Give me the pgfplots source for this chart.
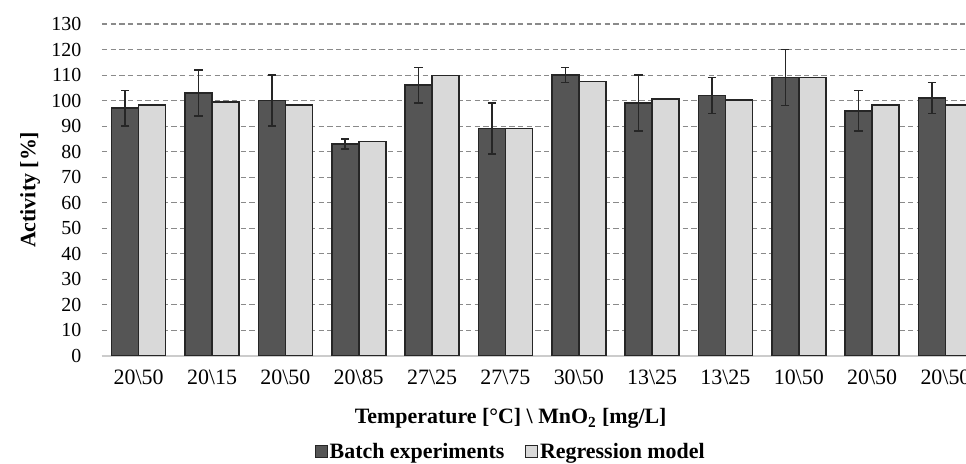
\documentclass[border=0pt]{standalone}
\usepackage{pgfplots}
\pgfplotsset{compat=1.18}
\usepackage{fontspec}
\setmainfont{Liberation Serif}
\usetikzlibrary{calc}
\definecolor{darkbar}{HTML}{555555}
\definecolor{lightbar}{HTML}{D9D9D9}
\definecolor{edge}{HTML}{262626}
\definecolor{gridc}{HTML}{8A8A8A}
\begin{document}
\begin{tikzpicture}
\begin{axis}[name=ax, scale only axis, width=648bp, height=248.8bp,
  ymin=0, ymax=130, ytick={0,10,...,130},
  xmin=-0.5, xmax=11.28,
  xtick={0,...,11},
  xticklabels={20\textbackslash 50,20\textbackslash 15,20\textbackslash 50,20\textbackslash 85,27\textbackslash 25,27\textbackslash 75,30\textbackslash 50,13\textbackslash 25,13\textbackslash 25,10\textbackslash 50,20\textbackslash 50,20\textbackslash 50},
  ybar=0pt, bar width=20.25bp,
  ymajorgrids, grid style={dash pattern=on 4bp off 2.5bp, gridc, line width=0.8bp},
  major tick length=0,
  axis x line*=bottom, axis y line*=left,
  x axis line style={draw=gray!40, line width=1.2bp},
  y axis line style={draw=none},
  /pgf/number format/assume math mode=true,
  yticklabel style={font=\fontsize{15}{16}\selectfont, xshift=-12bp},
  xticklabel style={font=\fontsize{16.5}{17}\selectfont, yshift=-7bp},
  xlabel={Temperature [°C] \textbackslash{} MnO\textsubscript{2} [mg/L]},
  ylabel={Activity [\%]},
  label style={font=\bfseries\fontsize{16.5}{17}\selectfont},
  xlabel style={at={(axis description cs:0.473,-0.19)}, anchor=center},
  ylabel style={at={(axis description cs:-0.0833,0.5)}, anchor=center},
  legend style={draw=none, fill=none, at={(axis description cs:0.473,-0.29)}, anchor=center,
    legend columns=-1, font=\bfseries\fontsize{16.5}{17}\selectfont,
    nodes={inner xsep=1.5bp},
    /tikz/every even column/.append style={column sep=14bp}},
  legend image code/.code={\draw[#1, line width=0.8bp] (0bp,-4.5bp) rectangle (9bp,4.5bp);},
]
\addplot[fill=darkbar, draw=edge, line width=1.2bp,
  error bars/.cd, y dir=both, y explicit,
  error bar style={line width=1.1bp, color=edge},
  error mark options={rotate=90, mark size=3.1bp, line width=1.1bp, color=edge}]
  coordinates {
  (0,97) +- (0,7)
  (1,103) +- (0,9)
  (2,100) +- (0,10)
  (3,83) +- (0,2)
  (4,106) +- (0,7)
  (5,89) +- (0,10)
  (6,110) +- (0,3)
  (7,99) +- (0,11)
  (8,102) +- (0,7)
  (9,109) +- (0,11)
  (10,96) +- (0,8)
  (11,101) +- (0,6)
  };
\addlegendentry{Batch experiments}
\addplot[fill=lightbar, draw=edge, line width=1.2bp]
  coordinates {
  (0,98.3) (1,99.4) (2,98.3) (3,84) (4,109.8) (5,89)
  (6,107.5) (7,100.7) (8,100.1) (9,109) (10,98.3) (11,98.3)
  };
\addlegendentry{Regression model}
\end{axis}
\pgfresetboundingbox
\path[use as bounding box] ($(ax.south west)+(-76.5bp,-81.2bp)$) rectangle ($(ax.south west)+(648bp,266.8bp)$);
\end{tikzpicture}
\end{document}
